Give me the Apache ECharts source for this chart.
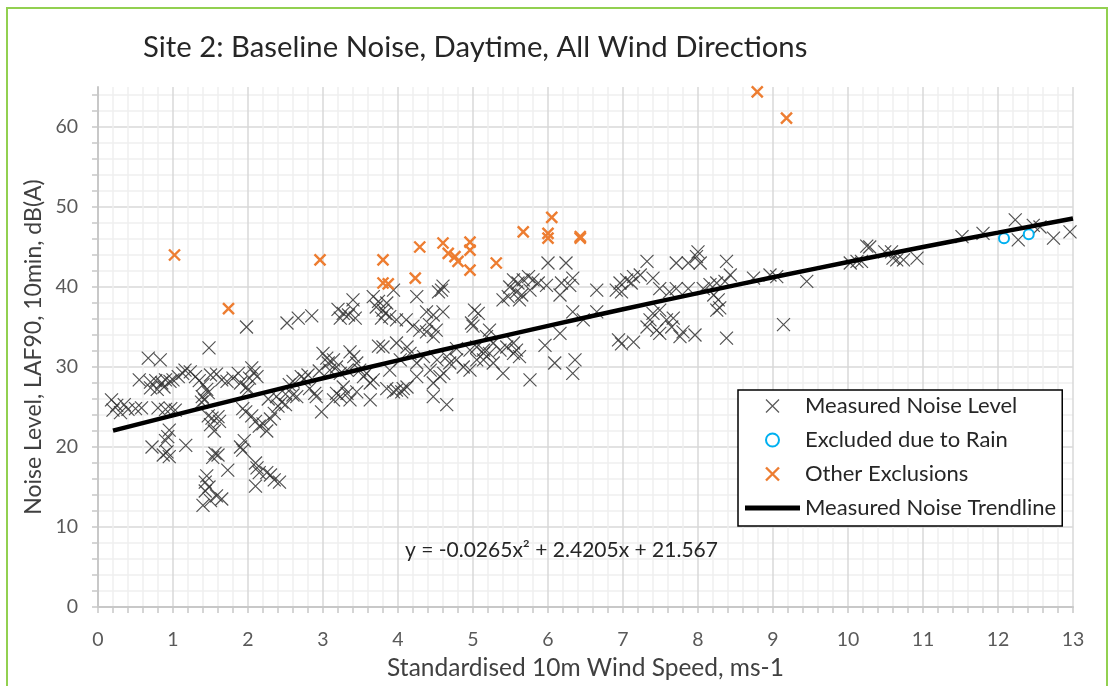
<!DOCTYPE html>
<html><head><meta charset="utf-8">
<script src="https://cdn.jsdelivr.net/npm/echarts@6/dist/echarts.min.js"></script>
<style>html,body{margin:0;padding:0;background:#fff}#c{width:1112px;height:686px}</style>
</head><body><div id="c"></div>
<script>
const titleText = 'Site 2: Baseline Noise, Daytime, All Wind Directions';
const xAxisTitle = 'Standardised 10m Wind Speed, ms-1';
const yAxisTitle = 'Noise Level, LAF90, 10min, dB(A)';
const equationText = 'y = -0.0265x\u00B2 + 2.4205x + 21.567';
const seriesNames = ['Measured Noise Level', 'Excluded due to Rain', 'Other Exclusions', 'Measured Noise Trendline'];

const measuredNoise = [
[0.18,25.9],[0.2,24.6],[0.25,25.2],[0.3,24.3],[0.35,25.3],[0.4,24.7],[0.5,24.8],[0.58,24.9],
[0.55,28.4],[0.67,31.1],[0.83,30.9],[0.7,28.1],[0.77,28.3],[0.85,28.0],[0.9,28.4],[0.96,28.2],
[0.7,27.4],[0.79,27.2],[0.88,27.5],[1.0,28.4],[1.07,28.8],[1.13,29.2],[1.16,29.6],[1.23,29.4],
[0.8,24.9],[0.9,24.7],[0.97,24.8],[1.03,24.6],
[0.95,22.1],[0.93,21.3],[0.9,20.8],[0.72,20.0],[1.17,20.2],[0.87,19.0],[0.95,18.8],[0.92,19.4],
[1.3,28.8],[1.35,28.3],[1.4,27.8],[1.45,27.2],[1.47,26.8],[1.5,29.0],[1.58,29.1],[1.65,28.4],[1.72,28.2],[1.8,28.6],[1.87,29.2],
[1.9,28.0],[1.98,27.5],[2.02,28.6],[2.05,29.9],[2.08,29.3],[2.12,28.8],[2.0,27.1],
[1.39,26.3],[1.42,25.9],[1.38,25.6],[1.47,23.9],[1.52,23.6],[1.6,23.8],
[1.55,22.0],[1.5,22.8],[1.62,23.2],
[1.93,24.8],[1.97,24.4],[2.05,23.9],[2.1,23.2],[2.15,22.6],[2.2,22.9],[2.25,22.0],[2.3,23.5],[2.35,24.2],[2.4,25.1],[2.45,25.6],[2.5,25.3],
[2.27,26.0],[2.38,26.3],[2.5,26.6],
[1.95,20.8],[1.9,20.0],[1.93,19.6],[1.56,19.2],[1.6,19.0],[1.53,18.7],[1.73,17.1],
[1.45,16.4],[1.43,15.6],[1.48,15.0],[1.43,14.5],[1.58,13.9],[1.65,13.5],[1.4,12.7],[1.5,13.3],
[2.1,18.0],[2.12,17.4],[2.15,16.8],[2.25,16.8],[2.3,16.5],[2.35,15.9],[2.42,15.6],[2.1,15.1],
[1.48,32.4],[1.98,35.0],[2.52,35.5],[2.67,36.1],[2.85,36.4],
[2.6,26.5],[2.65,26.3],[2.71,28.8],[2.82,27.3],[2.89,26.7],[2.91,26.3],[2.98,24.4],
[2.55,27.8],[2.6,28.2],[2.75,28.5],[2.8,29.0],[2.95,29.5],
[3.0,31.7],[3.05,31.1],[3.07,30.5],[3.14,30.9],[3.18,30.0],[3.09,29.6],[3.23,29.2],[3.32,29.6],[3.36,31.9],[3.41,31.3],[3.45,30.5],[3.49,29.6],[3.54,28.8],[3.58,29.2],[3.63,28.0],[3.67,28.4],
[3.27,27.5],[3.18,26.7],[3.14,25.9],[3.23,26.3],[3.32,26.7],[3.45,26.9],[3.36,25.9],[3.63,25.9],
[3.85,27.3],[3.94,26.9],[3.98,27.1],[4.05,26.9],[4.12,27.5],[4.07,27.3],[4.47,26.3],[4.65,25.3],
[3.89,29.6],[4.03,30.9],[4.16,31.7],[4.25,30.5],[4.34,31.3],[4.43,29.6],[4.52,30.9],[4.61,29.2],[4.69,30.5],[4.78,30.9],[4.87,30.0],[4.96,29.6],[5.05,30.9],[5.14,31.7],[5.05,32.5],[4.96,32.1],[4.78,32.3],[4.65,31.3],[4.56,28.8],[4.47,28.0],[4.25,28.8],[4.12,32.5],[3.98,33.0],[3.8,32.5],[3.74,32.6],
[3.2,37.2],[3.27,36.7],[3.23,36.1],[3.34,36.5],[3.4,37.2],[3.43,36.1],[3.4,38.4],
[3.67,38.8],[3.74,38.2],[3.85,38.0],[3.94,39.6],[3.83,36.7],[3.89,36.3],[3.98,35.9],[3.78,36.1],
[3.71,37.5],[3.8,37.1],
[4.25,38.8],[4.54,39.4],[4.6,40.1],[4.58,39.6],
[4.38,36.9],[4.47,36.5],[4.6,36.9],
[4.11,35.9],[4.2,35.1],[4.29,34.6],[4.38,34.4],[4.42,35.3],[4.51,34.6],[4.47,33.8],
[5.02,37.1],[5.07,36.7],[4.98,35.5],[5.0,35.1],
[5.54,40.9],[5.6,40.5],[5.67,40.9],[5.74,41.3],[5.8,40.9],[5.87,40.5],[5.49,40.0],[5.58,39.4],[5.65,39.0],[5.62,38.4],[5.4,38.4],[5.47,38.8],[5.76,39.6],[5.98,40.2],[6.18,40.5],[6.16,39.0],[6.33,41.1],[6.29,40.2],
[6.0,43.0],[6.24,43.0],[7.32,43.2],[7.71,43.0],
[6.65,39.6],[6.91,39.6],[6.98,39.4],[7.05,40.9],[7.14,41.3],[7.23,41.5],[7.4,41.1],[7.49,39.8],[7.62,39.4],[7.71,39.8],[6.96,40.5],[7.11,40.5],
[6.33,36.9],[6.47,35.9],[6.65,36.9],[6.16,34.2],[5.96,32.7],[6.09,30.5],[6.36,30.9],[6.33,29.2],[5.76,28.4],[6.94,33.4],[6.98,32.9],[7.14,33.1],
[7.32,35.0],[7.36,35.9],[7.4,36.7],[7.49,37.1],[7.45,34.6],[7.49,34.2],[7.58,35.9],[7.65,35.0],[7.76,33.8],
[5.22,34.6],[5.18,33.8],[5.27,33.0],[5.14,32.1],[5.22,31.7],[5.36,32.1],[5.45,32.5],[5.54,33.0],[5.58,32.1],[5.54,31.7],[5.62,31.3],[5.4,29.2],[5.27,30.5],[5.14,30.9],
[8.0,44.4],[7.98,43.8],[7.87,43.0],[8.03,43.0],[8.38,43.2],[8.43,41.5],[8.36,40.7],[8.25,40.5],[8.16,40.3],[8.07,39.8],[7.87,39.8],[8.21,39.0],[8.27,38.4],[8.25,37.1],[8.29,37.4],
[8.74,41.1],[8.96,41.5],[9.05,41.3],[9.45,40.7],[9.14,35.3],[7.67,36.1],[7.8,34.4],[7.96,34.0],[8.38,33.6],
[10.03,43.0],[10.12,43.2],[10.25,45.1],
[10.29,45.0],[10.49,44.4],[10.58,44.4],[10.6,43.6],[10.65,43.4],[10.74,43.4],[10.92,43.6],[10.18,43.2],
[11.52,46.3],[11.8,46.7],[12.23,48.4],[12.27,45.9],[12.47,47.7],[12.56,47.5],[12.74,46.1],[12.96,46.9]
];

const rainExcluded = [[12.08,46.1],[12.41,46.6]];

const otherExclusions = [
[1.02,44.0],[1.74,37.3],[2.96,43.4],[3.8,43.4],[3.8,40.5],[3.87,40.4],[4.23,41.1],[4.29,45.0],
[4.6,45.5],[4.67,44.2],[4.76,43.8],[4.8,43.2],[4.96,45.6],[4.96,44.6],[4.96,42.1],[5.31,43.0],
[5.67,46.9],[6.0,46.7],[6.0,46.1],[6.05,48.7],[6.43,46.1],[6.43,46.3],[8.79,64.4],[9.18,61.1]
];

const trendX = [0.2,1,2,3,4,5,6,7,8,9,10,11,12,13];
const trendY = [22.05,23.96,26.30,28.59,30.83,33.01,35.14,37.21,39.24,41.21,43.12,44.99,46.80,48.56];

const FONT = 'Lato';
const crossPath = 'path://M0,0L10,10M0,10L10,0';
const barPath = 'path://M0,0L55,0L55,5L0,5Z';

const chart = echarts.init(document.getElementById('c'), null, {renderer: 'canvas'});
chart.setOption({
  animation: false,
  backgroundColor: '#fff',
  title: {
    text: titleText, left: 143, top: 33, padding: 0,
    textStyle: {fontFamily: FONT, fontSize: 29.3, fontWeight: 'normal', color: '#262626'}
  },
  grid: {left: 98, top: 87, right: 39, bottom: 79, containLabel: false, outerBoundsMode: 'none'},
  xAxis: {
    type: 'value', min: 0, max: 13, interval: 1,
    name: xAxisTitle, nameLocation: 'middle', nameGap: 49, nameMoveOverlap: false,
    nameTextStyle: {fontFamily: FONT, fontSize: 24.5, color: '#404040'},
    axisLine: {show: true, onZero: false, lineStyle: {color: '#c8c8c8', width: 2}},
    axisTick: {show: true, length: 6, lineStyle: {color: '#c8c8c8', width: 1.5}},
    minorTick: {show: true, splitNumber: 5, length: 6, lineStyle: {color: '#c8c8c8', width: 1.5}},
    axisLabel: {fontFamily: FONT, fontSize: 19.5, color: '#595959', margin: 23},
    splitLine: {show: true, lineStyle: {color: '#d9d9d9', width: 1.5}},
    minorSplitLine: {show: true, lineStyle: {color: '#efefef', width: 1.5}}
  },
  yAxis: {
    type: 'value', min: 0, max: 65, interval: 2,
    name: yAxisTitle, nameLocation: 'middle', nameGap: 53, nameRotate: 90, nameMoveOverlap: false,
    nameTextStyle: {fontFamily: FONT, fontSize: 23, color: '#404040'},
    axisLine: {show: true, onZero: false, lineStyle: {color: '#c8c8c8', width: 2}},
    axisTick: {show: true, length: 6, lineStyle: {color: '#c8c8c8', width: 1.5}},
    axisLabel: {fontFamily: FONT, fontSize: 19.5, color: '#595959', margin: 20,
      showMaxLabel: false,
      formatter: function (v) { return (v % 10 === 0) ? String(v) : ''; }},
    splitLine: {show: true, showMaxLine: false,
      lineStyle: {color: ['#d9d9d9', '#efefef', '#efefef', '#efefef', '#efefef'], width: 1.5}}
  },
  legend: {
    orient: 'vertical', left: 738, top: 390,
    padding: [4, 6, 6, 7], itemWidth: 55, itemHeight: 13, itemGap: 10,
    backgroundColor: '#fff', borderColor: '#000', borderWidth: 1.5, borderRadius: 0,
    selectedMode: false,
    textStyle: {fontFamily: FONT, fontSize: 22, color: '#262626', lineHeight: 24},
    data: [
      {name: seriesNames[0], icon: crossPath, itemStyle: {color: 'rgba(0,0,0,0)', borderColor: '#404040', borderWidth: 1.3}},
      {name: seriesNames[1], icon: 'emptyCircle', itemStyle: {color: '#00B0F0', borderColor: '#00B0F0', borderWidth: 2.5}},
      {name: seriesNames[2], icon: crossPath, itemStyle: {color: 'rgba(0,0,0,0)', borderColor: '#ED7D31', borderWidth: 2.4}},
      {name: seriesNames[3], icon: barPath, itemStyle: {color: '#000', borderWidth: 0}}
    ]
  },
  graphic: [
    {type: 'rect', silent: true, z: 100, shape: {x: 7, y: 8, width: 1100, height: 700},
     style: {fill: 'none', stroke: '#92D050', lineWidth: 2}},
    {type: 'text', left: 405, top: 540, silent: true, z: 100,
     style: {text: equationText, fontFamily: FONT, fontSize: 21, fill: '#262626'}}
  ],
  series: [
    {name: seriesNames[0], type: 'scatter', data: measuredNoise, symbol: crossPath, symbolSize: 13, symbolKeepAspect: true,
     itemStyle: {color: 'rgba(0,0,0,0)', borderColor: '#333333', borderWidth: 1.2, opacity: 0.85},
     emphasis: {disabled: true}, z: 3},
    {name: seriesNames[1], type: 'scatter', data: rainExcluded, symbol: 'emptyCircle', symbolSize: 10,
     itemStyle: {color: '#00B0F0', borderColor: '#00B0F0', borderWidth: 2.5, opacity: 1},
     emphasis: {disabled: true}, z: 4},
    {name: seriesNames[2], type: 'scatter', data: otherExclusions, symbol: crossPath, symbolSize: 11, symbolKeepAspect: true,
     itemStyle: {color: 'rgba(0,0,0,0)', borderColor: '#ED7D31', borderWidth: 2.4, opacity: 1},
     emphasis: {disabled: true}, z: 4},
    {name: seriesNames[3], type: 'line', data: trendX.map(function (x, i) { return [x, trendY[i]]; }),
     smooth: true, symbol: 'none', showSymbol: false,
     lineStyle: {color: '#000', width: 4.5}, itemStyle: {color: '#000'},
     emphasis: {disabled: true}, z: 5}
  ]
});
</script>
</body></html>
